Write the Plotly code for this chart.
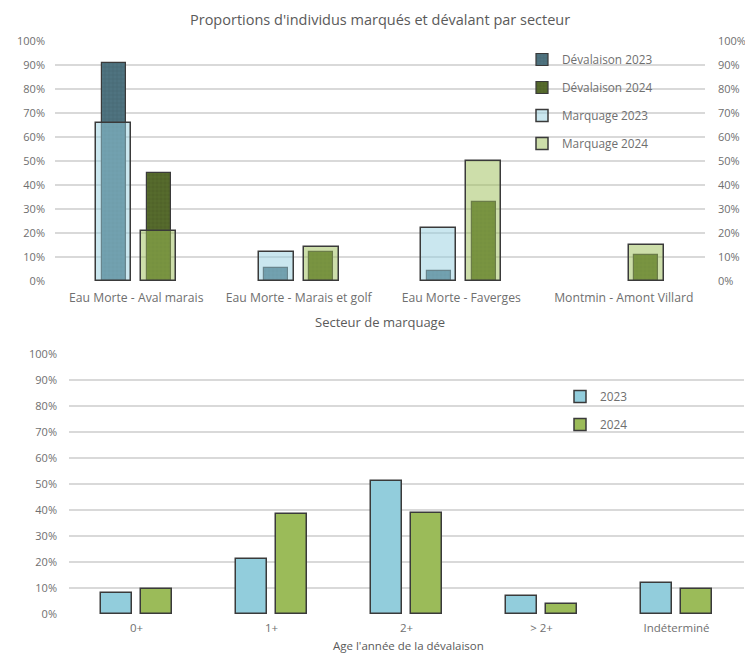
import plotly.graph_objects as go

# ---------------- data ----------------
secteurs = ["Eau Morte - Aval marais", "Eau Morte - Marais et golf",
            "Eau Morte - Faverges", "Montmin - Amont Villard"]
devalaison_2023 = [0.91, 0.055, 0.04, None]
devalaison_2024 = [0.45, 0.12, 0.33, 0.11]
marquage_2023 = [0.66, 0.12, 0.22, None]
marquage_2024 = [0.21, 0.14, 0.50, 0.15]

ages = ["0+", "1+", "2+", "> 2+", "Indéterminé"]
age_2023 = [0.08, 0.21, 0.51, 0.07, 0.12]
age_2024 = [0.095, 0.385, 0.39, 0.04, 0.095]

pct_ticks = [i / 10 for i in range(11)]
pct_labels = [f"{i*10}%" for i in range(11)]

# page body has an 8px margin: figure is 16px smaller than the window
W, H = 737, 645
FONT = "Open Sans"
GREY_TXT = "#6f6f6f"
GRID = "#d9d9d9"
EDGE = "#3a3a3a"

fig = go.Figure()

# ----- top chart: dévalaison (behind, narrow, patterned) -----
fig.add_trace(go.Bar(
    x=secteurs, y=devalaison_2023, name="Dévalaison 2023",
    xaxis="x", yaxis="y", offset=-0.212, width=0.148,
    marker=dict(color="#4f7380", line=dict(color=EDGE, width=1.2),
                pattern=dict(shape="+", fgcolor="#3b5862", size=4, solidity=0.25)),
    legend="legend", legendgroup="a", hoverinfo="skip"))
fig.add_trace(go.Bar(
    x=secteurs, y=devalaison_2024, name="Dévalaison 2024",
    xaxis="x", yaxis="y", offset=0.064, width=0.148,
    marker=dict(color="#566b2d", line=dict(color=EDGE, width=1.2),
                pattern=dict(shape="+", fgcolor="#3e4f1e", size=4, solidity=0.25)),
    legend="legend", legendgroup="b", hoverinfo="skip"))
# ----- top chart: marquage (front, wide, translucent) -----
fig.add_trace(go.Bar(
    x=secteurs, y=marquage_2023, name="Marquage 2023",
    xaxis="x", yaxis="y3", offset=-0.245, width=0.215,
    marker=dict(color="rgba(150,208,224,0.5)", line=dict(color=EDGE, width=1.5)),
    legend="legend", legendgroup="c", hoverinfo="skip"))
fig.add_trace(go.Bar(
    x=secteurs, y=marquage_2024, name="Marquage 2024",
    xaxis="x", yaxis="y3", offset=0.03, width=0.215,
    marker=dict(color="rgba(155,190,85,0.5)", line=dict(color=EDGE, width=1.5)),
    legend="legend", legendgroup="d", hoverinfo="skip"))

# ----- bottom chart -----
fig.add_trace(go.Bar(
    x=ages, y=age_2023, name="2023", xaxis="x2", yaxis="y2",
    offset=-0.26, width=0.23,
    marker=dict(color="#92cddc", line=dict(color=EDGE, width=1.5)),
    legend="legend2", legendgroup="e", hoverinfo="skip"))
fig.add_trace(go.Bar(
    x=ages, y=age_2024, name="2024", xaxis="x2", yaxis="y2",
    offset=0.03, width=0.23,
    marker=dict(color="#9bbb59", line=dict(color=EDGE, width=1.5)),
    legend="legend2", legendgroup="f", hoverinfo="skip"))

tickfont = dict(family=FONT, size=11, color=GREY_TXT)
catfont = dict(family=FONT, size=12.2, color=GREY_TXT)
catfont2 = dict(family=FONT, size=11.5, color=GREY_TXT)

top_x = [47 / W, 697 / W]
top_y = [1 - 273 / H, 1 - 33 / H]
bot_x = [61 / W, 736 / W]
bot_y = [1 - 606 / H, 1 - 346 / H]

yaxis_common = dict(range=[0, 1], tickvals=pct_ticks, ticktext=pct_labels,
                    tickfont=tickfont, ticks="", zeroline=False,
                    showline=False, automargin=False, fixedrange=True)

fig.update_layout(
    width=W, height=H,
    margin=dict(l=0, r=0, t=0, b=0),
    paper_bgcolor="white", plot_bgcolor="rgba(0,0,0,0)",
    barmode="overlay", bargap=0,
    font=dict(family=FONT, color=GREY_TXT),
    showlegend=True,
    xaxis=dict(domain=top_x, anchor="y", type="category",
               range=[-0.5, 3.5], tickfont=catfont,
               showgrid=False, showline=False, ticks="", automargin=False,
               ticklabelstandoff=8),
    yaxis=dict(domain=top_y, anchor="x", showgrid=True, gridcolor=GRID,
               gridwidth=1.5, ticklabelstandoff=9, **yaxis_common),
    yaxis3=dict(overlaying="y", side="right", anchor="x", showgrid=False,
                ticklabelstandoff=12, **yaxis_common),
    xaxis2=dict(domain=bot_x, anchor="y2", type="category",
                range=[-0.5, 4.5], tickfont=catfont2,
                showgrid=False, showline=False, ticks="", automargin=False,
                ticklabelstandoff=5),
    yaxis2=dict(domain=bot_y, anchor="x2", showgrid=True, gridcolor=GRID,
                gridwidth=1.5, ticklabelstandoff=11, **yaxis_common),
    legend=dict(x=514 / W, y=1 - 37 / H, xanchor="left", yanchor="top",
                bgcolor="rgba(0,0,0,0)", font=dict(family=FONT, size=11.8, color=GREY_TXT),
                tracegroupgap=9, itemwidth=30, traceorder="grouped"),
    legend2=dict(x=552 / W, y=1 - 374 / H, xanchor="left", yanchor="top",
                 bgcolor="rgba(0,0,0,0)", font=dict(family=FONT, size=11.8, color=GREY_TXT),
                 tracegroupgap=9, itemwidth=30, traceorder="grouped"),
    annotations=[
        dict(text="Proportions d'individus marqués et dévalant par secteur",
             x=372 / W, y=1 - 12 / H, xref="paper", yref="paper",
             xanchor="center", yanchor="middle", showarrow=False,
             font=dict(family=FONT, size=14.5, color="#5a5a5a")),
        dict(text="Secteur de marquage",
             x=372 / W, y=1 - 314 / H, xref="paper", yref="paper",
             xanchor="center", yanchor="middle", showarrow=False,
             font=dict(family=FONT, size=13, color="#5a5a5a")),
        dict(text="Age l'année de la dévalaison",
             x=400 / W, y=1 - 637.5 / H, xref="paper", yref="paper",
             xanchor="center", yanchor="middle", showarrow=False,
             font=dict(family=FONT, size=11.5, color="#5a5a5a")),
    ],
)

fig.write_html("out.html")
